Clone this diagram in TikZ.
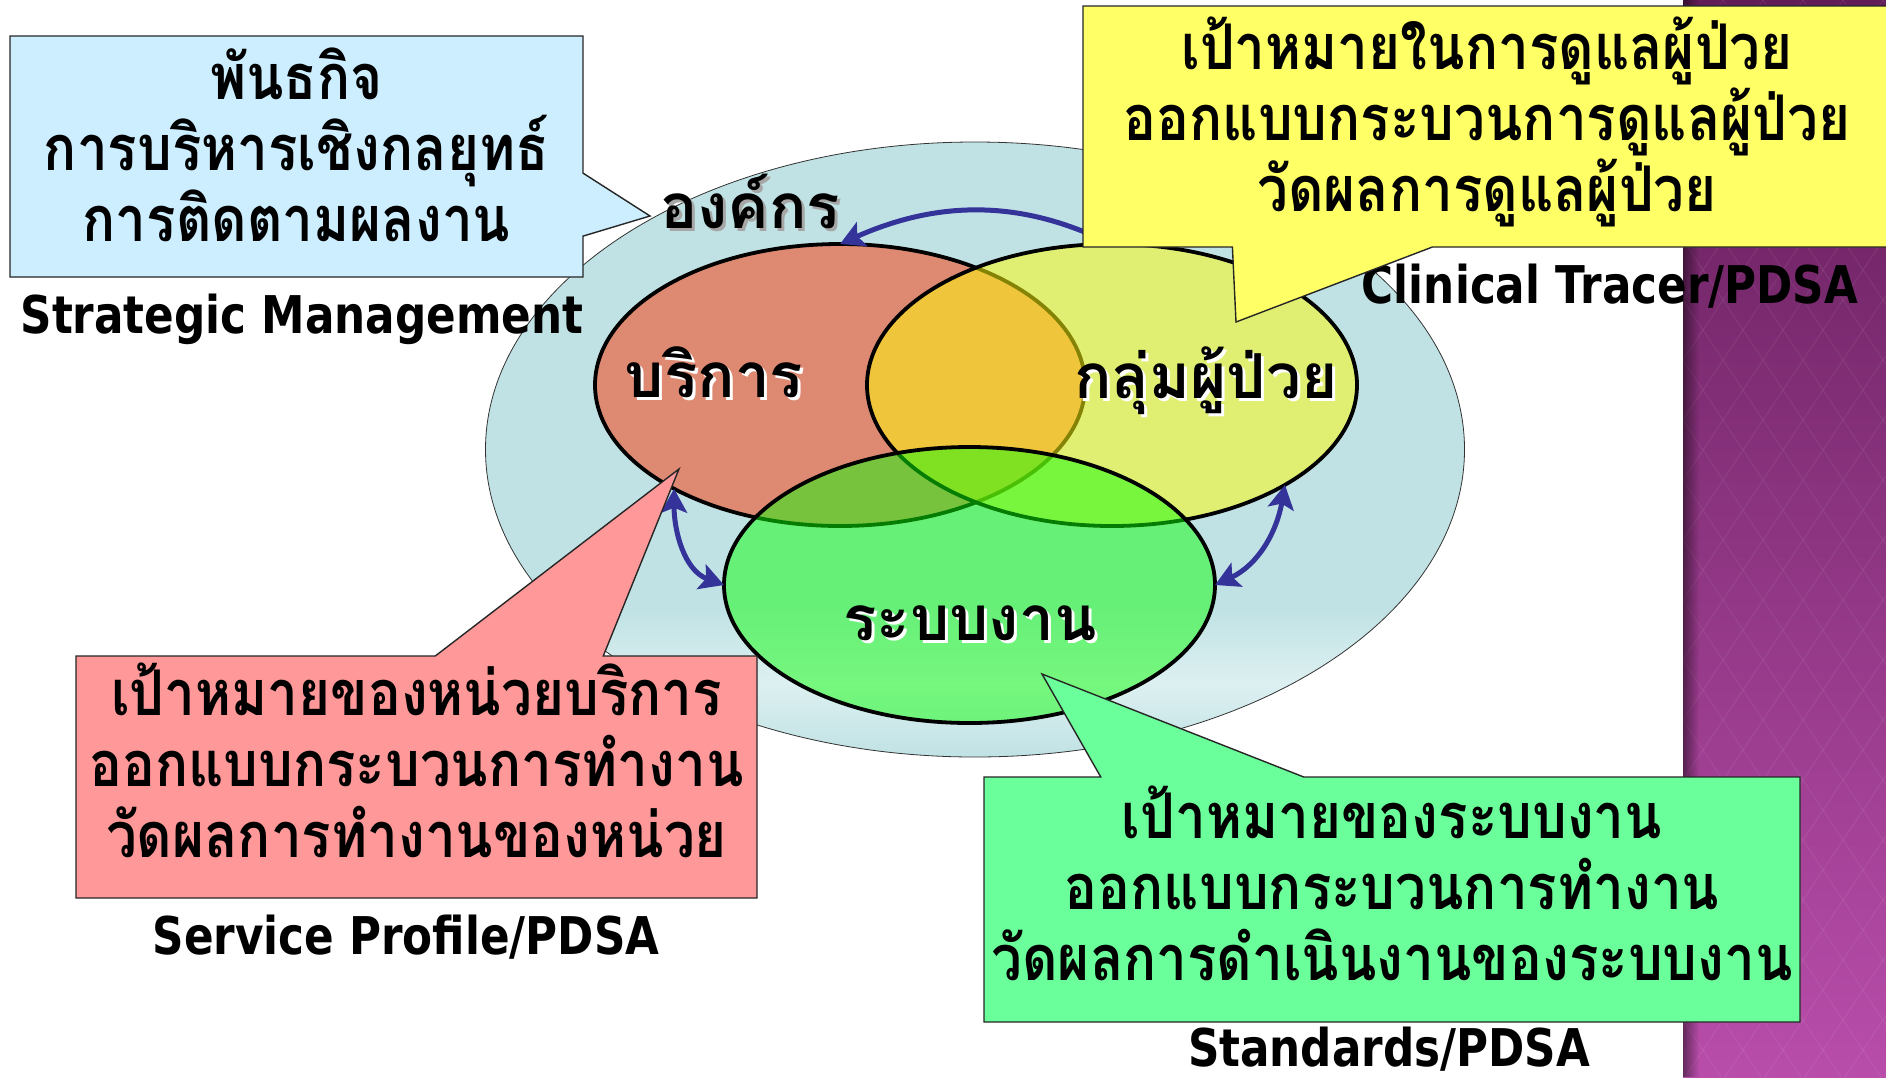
\documentclass[tikz,border=0pt]{standalone}
\usepackage{fontspec}
\usetikzlibrary{shapes.geometric,shapes.callouts,arrows.meta,fadings}
\newfontfamily\thaifont[Script=Thai]{Loma}
\newfontfamily\thaicond[Script=Thai,FakeStretch=0.87]{Loma}
\newfontfamily\latinfont[FakeStretch=0.84]{DejaVu Sans}

\definecolor{orgfill}{HTML}{C0E2E4}
\definecolor{orglight}{HTML}{DDF0F1}
\definecolor{svcfill}{HTML}{DE8A72}
\definecolor{patfill}{HTML}{FFFC0A}
\definecolor{sysfill}{HTML}{0CFF08}
\definecolor{cycleblue}{HTML}{333399}
\definecolor{missionfill}{HTML}{CCEEFF}
\definecolor{goalfill}{HTML}{FFFF66}
\definecolor{unitfill}{HTML}{FF9999}
\definecolor{stdfill}{HTML}{6AFF9A}
\definecolor{bandtop}{HTML}{621C58}
\definecolor{bandbot}{HTML}{B84DAA}

\pgfdeclareverticalshading{orgshade}{100bp}{color(0bp)=(orgfill); color(25bp)=(orgfill); color(31bp)=(orglight); color(37bp)=(orgfill); color(100bp)=(orgfill)}

\tikzset{
  venn/.style={ellipse, draw=black, line width=3.8pt, minimum width=490pt,
    minimum height=282pt, inner sep=0pt, outer sep=0pt},
  venntext/.style={font=\thaifont\bfseries\fontsize{62}{70}\selectfont,
    inner sep=0pt, anchor=base},
  tagtext/.style={font=\latinfont\bfseries\fontsize{52}{60}\selectfont,
    inner sep=0pt, anchor=base},
  calloutbox/.style={rectangle callout, draw=black!85, line width=1.4pt,
    inner sep=0pt, align=center, text depth=33pt,
    font=\thaicond\bfseries\fontsize{63}{71}\selectfont},
  cyclearrow/.style={cycleblue, line width=5pt,
    {Stealth[length=24pt,width=26pt,inset=5pt]}-{Stealth[length=24pt,width=26pt,inset=5pt]}},
  bandline/.style={white, line width=1.2pt, opacity=0.06}
}

\begin{document}
\begin{tikzpicture}[x=1pt,y=1pt]
    \useasboundingbox (0,0) rectangle (1886,-1077);
    \clip (0,0) rectangle (1886,-1077);
    \fill [white] (0,0) rectangle (1886,-1077);
    % side band
    \shade [top color=bandtop, bottom color=bandbot] (1683,0) rectangle (1886,-1077);
    \begin{scope}
        \clip (1683,0) rectangle (1886,-1077);
        \foreach \c in {-360,-300,...,1500} {
            \draw [bandline] (1683,-\c) -- ++(203,-304.5);
            \draw [bandline] (1683,-\c) -- ++(203,304.5);
        }
    \end{scope}
    \fill [black, path fading=east, fill opacity=0.45] (1683,0) rectangle (1699,-1077);

    % the organisation and the three circles
    \node [ellipse, draw=black!80, line width=0.8pt, shading=orgshade,
        minimum width=979pt, minimum height=615pt, inner sep=0pt] (org) at (975,-449.5) {};
    \node [venn, fill=svcfill] (svc) at (840,-385) {};
    \node [venn, fill=patfill, fill opacity=0.52] (pat) at (1112,-385) {};
    \node [venn, fill=sysfill, fill opacity=0.49, minimum width=491pt,
        minimum height=276pt] (sys) at (969.5,-585) {};

    % cycle arrows
    \draw [cyclearrow] (pat.north) to [out=156, in=24] (svc.north);
    \draw [cyclearrow] (svc.212) to [out=270, in=160] (sys.west);
    \draw [cyclearrow] (sys.east) to [out=25, in=260] (pat.330);

    % labels with shadow
    \node [venntext, text=black!35] at (753,-231) {องค์กร};
    \node [venntext] (orglabel) at (750,-228) {องค์กร};
    \node [venntext, text=white] at (717,-400) {บริการ};
    \node [venntext] (svclabel) at (714,-397) {บริการ};
    \node [venntext, text=white] at (1209,-401) {กลุ่มผู้ป่วย};
    \node [venntext] (patlabel) at (1206,-398) {กลุ่มผู้ป่วย};
    \node [venntext, text=white] at (973,-643) {ระบบงาน};
    \node [venntext] (syslabel) at (970,-640) {ระบบงาน};

    % method names
    \node [tagtext] (stratname) at (302,-333) {Strategic Management};
    \node [tagtext] (tracername) at (1610,-303) {Clinical Tracer/PDSA};
    \node [tagtext] (profilename) at (406,-954) {Service Profile/PDSA};
    \node [tagtext, text depth=0pt] (stdname) at (1389,-1066) {Standards/PDSA};

    % callouts
    \node [calloutbox, fill=missionfill, minimum width=573pt, minimum height=241pt,
        callout absolute pointer={(650,-216)}, callout pointer width=63pt,
        text depth=23pt]
        (mission) at (296.5,-156.5)
        {พันธกิจ\\การบริหารเชิงกลยุทธ์\\การติดตามผลงาน};
    \node [calloutbox, fill=goalfill, minimum width=808pt, minimum height=241pt,
        callout absolute pointer={(1236,-322)}, callout pointer width=200pt,
        text depth=24pt]
        (caregoal) at (1487,-126.5)
        {เป้าหมายในการดูแลผู้ป่วย\\ออกแบบกระบวนการดูแลผู้ป่วย\\วัดผลการดูแลผู้ป่วย};
    \node [calloutbox, fill=unitfill, minimum width=681pt, minimum height=242pt,
        callout absolute pointer={(679,-469)}, callout pointer width=168pt]
        (unitgoal) at (416.5,-777)
        {เป้าหมายของหน่วยบริการ\\ออกแบบกระบวนการทำงาน\\วัดผลการทำงานของหน่วย};
    \node [calloutbox, fill=stdfill, minimum width=816pt, minimum height=245pt,
        callout absolute pointer={(1042,-674)}, callout pointer width=203pt]
        (sysgoal) at (1392,-899.5)
        {เป้าหมายของระบบงาน\\ออกแบบกระบวนการทำงาน\\วัดผลการดำเนินงานของระบบงาน};
\end{tikzpicture}
\end{document}
